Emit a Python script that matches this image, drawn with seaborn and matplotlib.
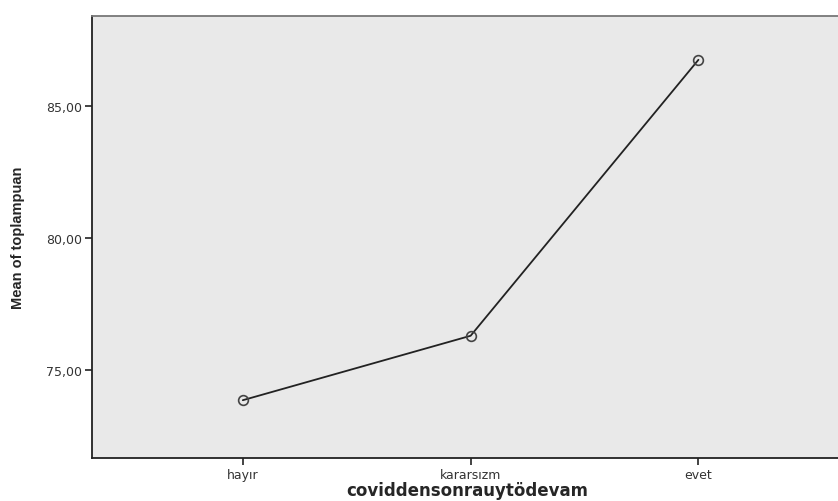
import matplotlib
matplotlib.use("Agg")
import matplotlib.pyplot as plt
import seaborn as sns
import pandas as pd

categories = ["hayır", "kararsızm", "evet"]
means = [73.86, 76.30, 86.75]
ytick_values = [75, 80, 85]
ytick_labels = ["75,00", "80,00", "85,00"]

sns.set_style("white")
plt.rcParams["font.family"] = ["DejaVu Sans"]

df = pd.DataFrame({"cat": categories, "mean": means})
df["pos"] = range(len(categories))

fig = plt.figure(figsize=(8.38, 5.02), dpi=100)
ax = fig.add_axes([92 / 838, (502 - 459.3) / 502, 1.0 - 92 / 838 + 0.002, (459.3 - 16.7) / 502])
ax.set_facecolor("#e9e9e9")

sns.lineplot(data=df, x="pos", y="mean", sort=False, ax=ax, color="#222222",
             linewidth=1.3, marker="o", markersize=7, markerfacecolor="none",
             markeredgecolor="#444444", markeredgewidth=1.2)

ax.set_xlim(-0.662, 2.62)
ax.set_ylim(71.66, 88.42)
ax.set_xticks(df["pos"])
ax.set_xticklabels(categories, fontsize=9, color="#333333")
ax.set_yticks(ytick_values)
ax.set_yticklabels(ytick_labels, fontsize=9, color="#333333")
ax.tick_params(axis="both", which="both", length=5, width=1.2, color="#222222",
               direction="out", bottom=True, left=True, pad=2)

for side in ["left", "bottom"]:
    ax.spines[side].set_color("#222222")
    ax.spines[side].set_linewidth(1.3)
ax.spines["top"].set_color("#777777")
ax.spines["top"].set_linewidth(1.3)
ax.spines["right"].set_visible(False)

ax.set_xlabel("")
ax.set_ylabel("")
fig.text(18 / 838, 1 - 238 / 502, "Mean of toplampuan", rotation=90,
         ha="center", va="center", fontsize=10.5, fontweight="bold",
         family=["Liberation Sans Narrow", "Liberation Sans", "DejaVu Sans"],
         fontstretch="condensed")
fig.text(467 / 838, 2 / 502, "coviddensonrauytödevam", ha="center", va="bottom",
         fontsize=12, fontweight="bold", family=["DejaVu Sans"])

fig.savefig("out.png", dpi=100, facecolor="white")
